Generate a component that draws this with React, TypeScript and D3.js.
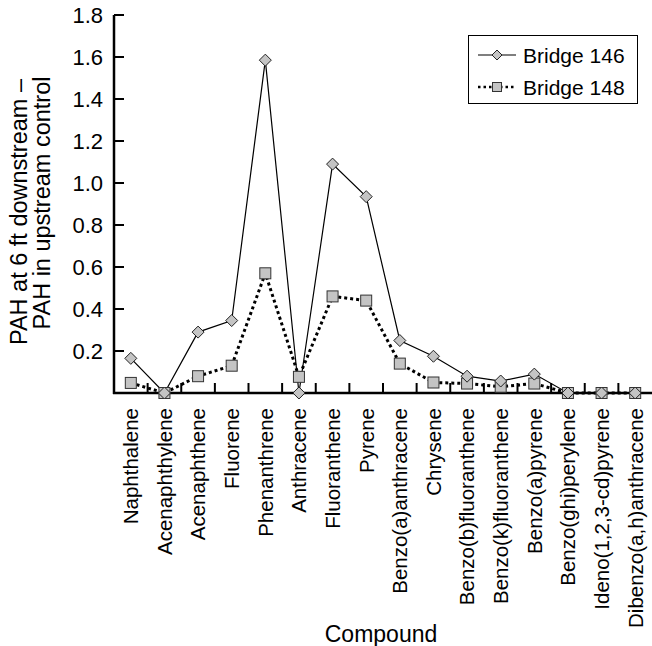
import React from "react";
import * as d3 from "d3";

const compounds = [
  "Naphthalene",
  "Acenaphthylene",
  "Acenaphthene",
  "Fluorene",
  "Phenanthrene",
  "Anthracene",
  "Fluoranthene",
  "Pyrene",
  "Benzo(a)anthracene",
  "Chrysene",
  "Benzo(b)fluoranthene",
  "Benzo(k)fluoranthene",
  "Benzo(a)pyrene",
  "Benzo(ghi)perylene",
  "Ideno(1,2,3-cd)pyrene",
  "Dibenzo(a,h)anthracene",
];

const bridge146 = [0.165, 0, 0.29, 0.345, 1.585, 0, 1.09, 0.935, 0.25, 0.175, 0.08, 0.057, 0.09, 0, 0, 0];
const bridge148 = [0.048, 0, 0.08, 0.13, 0.57, 0.077, 0.46, 0.44, 0.14, 0.05, 0.045, 0.03, 0.045, 0, 0, 0];

const yTickValues = [0.2, 0.4, 0.6, 0.8, 1.0, 1.2, 1.4, 1.6, 1.8];
const seriesNames = ["Bridge 146", "Bridge 148"];

const FONT = "'Liberation Sans', Arial, Helvetica, sans-serif";

export default function App() {
  const width = 652;
  const height = 646;
  const left = 114;
  const right = 652;
  const top = 15;
  const bottom = 393;

  const x = d3.scaleBand<string>().domain(compounds).range([left, right]).padding(0);
  const bw = x.bandwidth();
  const cx = (c: string) => (x(c) as number) + bw / 2;
  const y = d3.scaleLinear().domain([0, 1.8]).range([bottom, top]);

  const line = d3
    .line<number>()
    .x((_, i) => cx(compounds[i]))
    .y((d) => y(d));

  const diamond = (px: number, py: number, r: number) =>
    `M${px},${py - r}L${px + r},${py}L${px},${py + r}L${px - r},${py}Z`;

  const markerFill = "#c4c4c4";

  return (
    <svg
      width={width}
      height={height}
      style={{ position: "absolute", left: 0, top: 0, background: "#fff" }}
      fontFamily={FONT}
    >
      {/* series lines */}
      <path d={line(bridge146) || ""} fill="none" stroke="#000" strokeWidth={1.2} />
      <path
        d={line(bridge148) || ""}
        fill="none"
        stroke="#000"
        strokeWidth={3}
        strokeDasharray="3,3"
      />

      {/* axes */}
      <line x1={left} x2={left} y1={top} y2={bottom + 1} stroke="#000" strokeWidth={2.5} />
      <line x1={left - 1} x2={right} y1={bottom} y2={bottom} stroke="#000" strokeWidth={2.5} />
      {yTickValues.map((t) => (
        <g key={t}>
          <line x1={left} x2={left + 10} y1={y(t)} y2={y(t)} stroke="#000" strokeWidth={2} />
          <text x={103} y={y(t)} dy="0.36em" textAnchor="end" fontSize={22} fill="#000">
            {t.toFixed(1)}
          </text>
        </g>
      ))}
      {compounds.slice(1).map((c) => (
        <line
          key={c}
          x1={x(c) as number}
          x2={x(c) as number}
          y1={bottom}
          y2={bottom - 10}
          stroke="#000"
          strokeWidth={2}
        />
      ))}
      {compounds.map((c) => (
        <text
          key={c}
          transform={`translate(${cx(c)},408) rotate(-90)`}
          dy="0.36em"
          textAnchor="end"
          fontSize={20.5}
          fill="#000"
        >
          {c}
        </text>
      ))}

      {/* markers */}
      {bridge148.map((v, i) => (
        <rect
          key={"s" + i}
          x={cx(compounds[i]) - 5.5}
          y={y(v) - 5.5}
          width={11}
          height={11}
          fill={markerFill}
          stroke="#333"
          strokeWidth={1}
        />
      ))}
      {bridge146.map((v, i) => (
        <path
          key={"d" + i}
          d={diamond(cx(compounds[i]), y(v), 6)}
          fill={markerFill}
          stroke="#222"
          strokeWidth={1}
        />
      ))}

      {/* axis titles */}
      <text x={381} y={642} textAnchor="middle" fontSize={23} fill="#000">
        Compound
      </text>
      <text transform="translate(27,212) rotate(-90)" textAnchor="middle" fontSize={23.5} fill="#000">
        PAH at 6 ft downstream –
      </text>
      <text transform="translate(50,203) rotate(-90)" textAnchor="middle" fontSize={23.5} fill="#000">
        PAH in upstream control
      </text>

      {/* legend */}
      <rect x={468.5} y={35.5} width={169} height={68} fill="#fff" stroke="#000" strokeWidth={1} />
      <line x1={478} x2={516} y1={55} y2={55} stroke="#000" strokeWidth={1.2} />
      <path d={diamond(497, 55, 5)} fill={markerFill} stroke="#222" strokeWidth={1} />
      <text x={523} y={55} dy="0.36em" fontSize={21} fill="#000">
        {seriesNames[0]}
      </text>
      <line x1={478} x2={516} y1={87} y2={87} stroke="#000" strokeWidth={2.5} strokeDasharray="2.5,3" />
      <rect x={492.5} y={82.5} width={9} height={9} fill={markerFill} stroke="#333" strokeWidth={1} />
      <text x={523} y={87} dy="0.36em" fontSize={21} fill="#000">
        {seriesNames[1]}
      </text>
    </svg>
  );
}
